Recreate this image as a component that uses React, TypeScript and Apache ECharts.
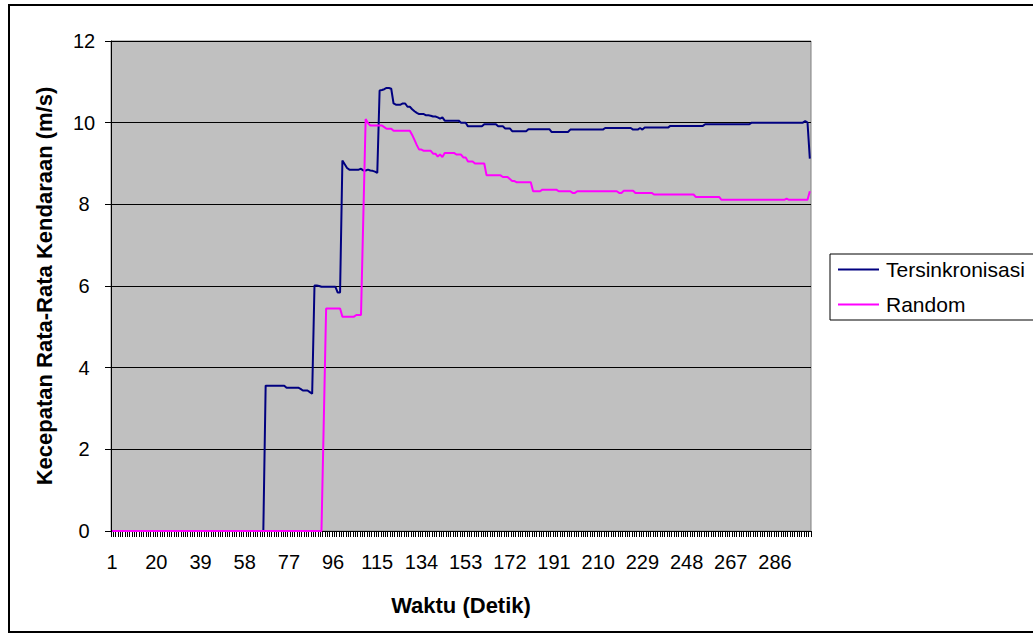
import React, { useEffect, useRef } from "react";
import * as echarts from "echarts";

// Waktu (detik) 1..301
const waktu: string[] = Array.from({ length: 301 }, (_, i) => String(i + 1));

// Labelled ticks on the time axis
const tickLabels = [1, 20, 39, 58, 77, 96, 115, 134, 153, 172, 191, 210, 229, 248, 267, 286];

// Kecepatan rata-rata (m/s), lampu lalu lintas tersinkronisasi
const tersinkronisasi = [
  0, 0, 0, 0, 0, 0, 0, 0, 0, 0,
  0, 0, 0, 0, 0, 0, 0, 0, 0, 0,
  0, 0, 0, 0, 0, 0, 0, 0, 0, 0,
  0, 0, 0, 0, 0, 0, 0, 0, 0, 0,
  0, 0, 0, 0, 0, 0, 0, 0, 0, 0,
  0, 0, 0, 0, 0, 0, 0, 0, 0, 0,
  0, 0, 0, 0, 0, 0,
  3.56, 3.56, 3.56, 3.56, 3.56, 3.56, 3.56, 3.56, 3.56,
  3.51, 3.51, 3.51, 3.51, 3.51, 3.51,
  3.48, 3.44, 3.44, 3.44, 3.40, 3.36,
  6.01, 6.01, 6.00, 5.98, 5.98, 5.98, 5.98, 5.98, 5.98, 5.98, 5.84, 5.84,
  9.07, 8.98, 8.89, 8.85, 8.85, 8.85, 8.85, 8.85, 8.87, 8.83, 8.83, 8.85, 8.83, 8.82, 8.80, 8.77,
  10.79, 10.80, 10.82, 10.85, 10.85, 10.83, 10.47, 10.44, 10.44, 10.44,
  10.47, 10.47, 10.39, 10.39, 10.33, 10.28, 10.24, 10.21, 10.21, 10.21,
  10.18, 10.18, 10.17, 10.15, 10.15, 10.13, 10.10, 10.13,
  10.05, 10.05, 10.05, 10.05, 10.05, 10.05, 10.05,
  10.00, 10.00, 10.00,
  9.91, 9.91, 9.91, 9.91, 9.91, 9.91, 9.91,
  9.96, 9.96, 9.96, 9.96, 9.96, 9.96,
  9.91, 9.91, 9.91,
  9.86, 9.86, 9.86,
  9.79, 9.79, 9.79, 9.79, 9.79, 9.79, 9.79,
  9.84, 9.84, 9.84, 9.84, 9.84, 9.84, 9.84, 9.84, 9.84, 9.84,
  9.77, 9.77, 9.77, 9.77, 9.77, 9.77, 9.77, 9.77,
  9.83, 9.83, 9.83, 9.83, 9.83, 9.83, 9.83, 9.83, 9.83, 9.83, 9.83, 9.83, 9.83, 9.83, 9.83,
  9.87, 9.87, 9.87, 9.87, 9.87, 9.87, 9.87, 9.87, 9.87, 9.87, 9.87, 9.87,
  9.83, 9.83, 9.83, 9.87, 9.83,
  9.88, 9.88, 9.88, 9.88, 9.88, 9.88, 9.88, 9.88, 9.88, 9.88, 9.88,
  9.92, 9.92, 9.92, 9.92, 9.92, 9.92, 9.92, 9.92, 9.92, 9.92, 9.92, 9.92, 9.92, 9.92, 9.92,
  9.96, 9.96, 9.96, 9.96, 9.96, 9.96, 9.96, 9.96, 9.96, 9.96,
  9.96, 9.96, 9.96, 9.96, 9.96, 9.96, 9.96, 9.96, 9.96, 9.96,
  10.00, 10.00, 10.00, 10.00, 10.00, 10.00, 10.00, 10.00, 10.00, 10.00,
  10.00, 10.00, 10.00, 10.00, 10.00, 10.00, 10.00, 10.00, 10.00, 10.00,
  10.00, 10.00, 10.00,
  10.04, 10.00, 9.12,
];

// Kecepatan rata-rata (m/s), lampu lalu lintas acak
const acak = [
  0, 0, 0, 0, 0, 0, 0, 0, 0, 0,
  0, 0, 0, 0, 0, 0, 0, 0, 0, 0,
  0, 0, 0, 0, 0, 0, 0, 0, 0, 0,
  0, 0, 0, 0, 0, 0, 0, 0, 0, 0,
  0, 0, 0, 0, 0, 0, 0, 0, 0, 0,
  0, 0, 0, 0, 0, 0, 0, 0, 0, 0,
  0, 0, 0, 0, 0, 0, 0, 0, 0, 0,
  0, 0, 0, 0, 0, 0, 0, 0, 0, 0,
  0, 0, 0, 0, 0, 0, 0, 0, 0, 0,
  0,
  2.70,
  5.45, 5.45, 5.45, 5.45, 5.45, 5.45, 5.45,
  5.25, 5.25, 5.25, 5.25, 5.25, 5.25,
  5.29, 5.29, 5.29,
  7.70, 10.09, 9.99,
  9.93, 9.93, 9.93, 9.93, 9.93, 9.93,
  9.89, 9.85, 9.85, 9.85,
  9.80, 9.80, 9.80, 9.80, 9.80, 9.80, 9.80, 9.80,
  9.70, 9.58, 9.45, 9.34, 9.34,
  9.31, 9.31, 9.31, 9.31,
  9.24, 9.24, 9.17, 9.22, 9.16,
  9.26, 9.26, 9.26, 9.26, 9.26,
  9.22, 9.22, 9.22,
  9.15, 9.15,
  9.05, 9.05, 9.05,
  9.00, 9.00, 9.00, 9.00, 9.00,
  8.71, 8.71, 8.71, 8.71, 8.71, 8.71, 8.71,
  8.67, 8.67, 8.67, 8.62, 8.57, 8.57,
  8.54, 8.54, 8.54, 8.54, 8.54, 8.54, 8.54,
  8.32, 8.32, 8.32, 8.32,
  8.36, 8.36, 8.36, 8.36, 8.36, 8.36, 8.36,
  8.32, 8.32, 8.32, 8.32, 8.32, 8.32,
  8.28, 8.28,
  8.32, 8.32, 8.32, 8.32, 8.32, 8.32, 8.32, 8.32, 8.32,
  8.32, 8.32, 8.32, 8.32, 8.32, 8.32, 8.32, 8.32, 8.32,
  8.28, 8.28,
  8.33, 8.33, 8.33, 8.33, 8.33,
  8.28, 8.28, 8.28, 8.28, 8.28, 8.28, 8.28, 8.28,
  8.24, 8.24, 8.24, 8.24, 8.24, 8.24, 8.24, 8.24, 8.24,
  8.24, 8.24, 8.24, 8.24, 8.24, 8.24, 8.24, 8.24, 8.24,
  8.18, 8.18, 8.18, 8.18, 8.18, 8.18, 8.18, 8.18, 8.18, 8.18, 8.18,
  8.11, 8.11, 8.11, 8.11, 8.11, 8.11, 8.11, 8.11, 8.11, 8.11,
  8.11, 8.11, 8.11, 8.11, 8.11, 8.11, 8.11, 8.11, 8.11, 8.11,
  8.11, 8.11, 8.11, 8.11, 8.11, 8.11, 8.11, 8.11,
  8.14,
  8.11, 8.11, 8.11, 8.11, 8.11, 8.11, 8.11, 8.11, 8.11,
  8.32,
];

const FONT = '"Liberation Sans", Arial, sans-serif';

export default function App() {
  const ref = useRef<HTMLDivElement>(null);

  useEffect(() => {
    if (!ref.current) return;
    const chart = echarts.init(ref.current, undefined, { renderer: "svg" });
    chart.setOption({
      animation: false,
      backgroundColor: "#ffffff",
      textStyle: { fontFamily: FONT, color: "#000" },
      grid: {
        left: 111,
        top: 41,
        width: 700,
        height: 490,
        show: true,
        backgroundColor: "#C0C0C0",
        borderColor: "#808080",
        borderWidth: 1,
      },
      legend: {
        orient: "vertical",
        left: 830,
        top: 254,
        padding: [5, 200, 5, 8],
        itemGap: 14,
        itemWidth: 41,
        itemHeight: 2,
        icon: "rect",
        backgroundColor: "#ffffff",
        borderColor: "#000000",
        borderWidth: 1,
        borderRadius: 0,
        textStyle: { fontFamily: FONT, fontSize: 21, color: "#000", padding: [0, 0, 0, 2] },
        data: ["Tersinkronisasi", "Random"],
      },
      xAxis: {
        type: "category",
        data: waktu,
        boundaryGap: true,
        axisLine: { show: true, lineStyle: { color: "#000", width: 1 } },
        axisTick: { show: true, interval: 0, length: 6, lineStyle: { color: "#000", width: 1 } },
        axisLabel: {
          interval: (_idx: number, value: string) => tickLabels.includes(Number(value)),
          fontFamily: FONT,
          fontSize: 20,
          color: "#000",
          margin: 21,
        },
        splitLine: { show: false },
      },
      yAxis: {
        type: "value",
        min: 0,
        max: 12,
        interval: 2,
        axisLine: { show: true, lineStyle: { color: "#000", width: 1 } },
        axisTick: { show: true, length: 6, lineStyle: { color: "#000", width: 1 } },
        axisLabel: {
          fontFamily: FONT,
          fontSize: 20,
          color: "#000",
          align: "center",
          margin: 27,
        },
        splitLine: { show: true, lineStyle: { color: "#000", width: 1 } },
      },
      graphic: [
        {
          type: "rect",
          shape: { x: 9, y: 5, width: 1100, height: 627 },
          style: { fill: "none", stroke: "#000", lineWidth: 2 },
          silent: true,
        },
        {
          type: "text",
          x: 461,
          y: 605,
          style: {
            text: "Waktu (Detik)",
            font: `bold 22px ${FONT}`,
            fill: "#000",
            textAlign: "center",
            textVerticalAlign: "middle",
          },
        },
        {
          type: "text",
          x: 44,
          y: 286,
          rotation: Math.PI / 2,
          style: {
            text: "Kecepatan Rata-Rata Kendaraan (m/s)",
            font: `bold 22px ${FONT}`,
            fill: "#000",
            textAlign: "center",
            textVerticalAlign: "middle",
          },
        },
      ],
      series: [
        {
          name: "Tersinkronisasi",
          type: "line",
          data: tersinkronisasi,
          symbol: "none",
          lineStyle: { color: "#000080", width: 2 },
          itemStyle: { color: "#000080" },
        },
        {
          name: "Random",
          type: "line",
          data: acak,
          symbol: "none",
          lineStyle: { color: "#FF00FF", width: 2 },
          itemStyle: { color: "#FF00FF" },
        },
      ],
    });
    return () => chart.dispose();
  }, []);

  return (
    <div style={{ position: "fixed", left: 0, top: 0, width: 1033, height: 640, background: "#fff" }}>
      <div ref={ref} style={{ width: 1033, height: 640 }} />
    </div>
  );
}
